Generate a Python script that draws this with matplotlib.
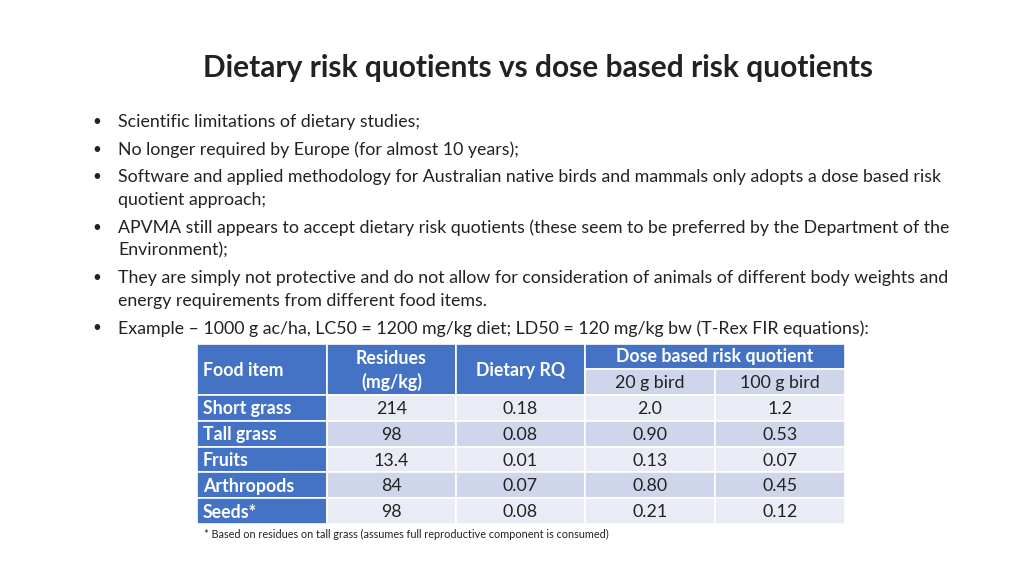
import matplotlib
matplotlib.use('Agg')
import matplotlib.pyplot as plt
from matplotlib.patches import Rectangle

plt.rcParams['font.family'] = ['Lato', 'DejaVu Sans']

title = 'Dietary risk quotients vs dose based risk quotients'

bullets = [
    ['Scientific limitations of dietary studies;'],
    ['No longer required by Europe (for almost 10 years);'],
    ['Software and applied methodology for Australian native birds and mammals only adopts a dose based risk',
     'quotient approach;'],
    ['APVMA still appears to accept dietary risk quotients (these seem to be preferred by the Department of the',
     'Environment);'],
    ['They are simply not protective and do not allow for consideration of animals of different body weights and',
     'energy requirements from different food items.'],
    ['Example \u2013 1000 g ac/ha, LC50 = 1200 mg/kg diet; LD50 = 120 mg/kg bw (T-Rex FIR equations):'],
]

food_items = ['Short grass', 'Tall grass', 'Fruits', 'Arthropods', 'Seeds*']
residues = ['214', '98', '13.4', '84', '98']
dietary_rq = ['0.18', '0.08', '0.01', '0.07', '0.08']
rq_20g = ['2.0', '0.90', '0.13', '0.80', '0.21']
rq_100g = ['1.2', '0.53', '0.07', '0.45', '0.12']
footnote = '* Based on residues on tall grass (assumes full reproductive component is consumed)'

BLUE = '#4472C4'
LIGHT = '#E9EBF5'
DARK = '#CFD5EA'
TXT = '#222222'

fig = plt.figure(figsize=(10.24, 5.76), dpi=100)
ax = fig.add_axes([0, 0, 1, 1])
ax.set_xlim(0, 1024)
ax.set_ylim(576, 0)
ax.axis('off')

ax.text(538, 68, title, ha='center', va='center', fontsize=21.5, fontweight='bold', color=TXT)

# bullet list
y = 122
for item in bullets:
    ax.text(97, y, '\u2022', ha='center', va='center', fontsize=11, color=TXT)
    for line in item:
        ax.text(118, y, line, ha='left', va='center', fontsize=12.8, color=TXT)
        y += 23
    y += 4.5

# table
xs = [197, 327, 456, 585, 715, 845]
h_top, h_mid, h_bot = 344, 369, 395
row_h = 25.8

def cell(x0, x1, y0, y1, color):
    ax.add_patch(Rectangle((x0, y0), x1 - x0, y1 - y0, facecolor=color,
                           edgecolor='white', linewidth=1.2))

# header
cell(xs[0], xs[1], h_top, h_bot, BLUE)
cell(xs[1], xs[2], h_top, h_bot, BLUE)
cell(xs[2], xs[3], h_top, h_bot, BLUE)
cell(xs[3], xs[5], h_top, h_mid, BLUE)
cell(xs[3], xs[4], h_mid, h_bot, DARK)
cell(xs[4], xs[5], h_mid, h_bot, DARK)

fs = 12.8
hkw = dict(va='center', fontsize=fs, fontweight='bold', color='white')
ax.text(xs[0] + 6, (h_top + h_bot) / 2 + 1, 'Food item', ha='left', **hkw)
ax.text((xs[1] + xs[2]) / 2, (h_top + h_bot) / 2 + 1, 'Residues\n(mg/kg)', ha='center',
        linespacing=1.35, **hkw)
ax.text((xs[2] + xs[3]) / 2, (h_top + h_bot) / 2 + 1, 'Dietary RQ', ha='center', **hkw)
ax.text((xs[3] + xs[5]) / 2, (h_top + h_mid) / 2, 'Dose based risk quotient', ha='center', **hkw)
ax.text((xs[3] + xs[4]) / 2, (h_mid + h_bot) / 2 + 1, '20 g bird', ha='center', va='center',
        fontsize=fs, color=TXT)
ax.text((xs[4] + xs[5]) / 2, (h_mid + h_bot) / 2 + 1, '100 g bird', ha='center', va='center',
        fontsize=fs, color=TXT)

for i, name in enumerate(food_items):
    y0 = h_bot + i * row_h
    y1 = y0 + row_h
    yc = (y0 + y1) / 2 + 1
    shade = LIGHT if i % 2 == 0 else DARK
    cell(xs[0], xs[1], y0, y1, BLUE)
    ax.text(xs[0] + 6, yc, name, ha='left', va='center', fontsize=fs,
            fontweight='bold', color='white')
    for j, col in enumerate([residues, dietary_rq, rq_20g, rq_100g]):
        cell(xs[j + 1], xs[j + 2], y0, y1, shade)
        ax.text((xs[j + 1] + xs[j + 2]) / 2, yc, col[i], ha='center', va='center',
                fontsize=fs, color=TXT)

ax.text(204, 534, footnote, ha='left', va='center', fontsize=7.8, color=TXT)

fig.savefig('out.png', dpi=100, facecolor='white')
